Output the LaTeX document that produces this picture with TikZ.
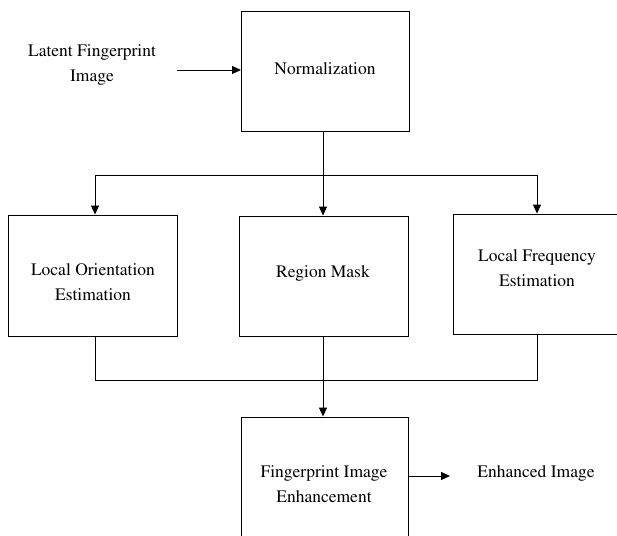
\documentclass[tikz,border=0pt]{standalone}
\usepackage[T1]{fontenc}
\usepackage{times}
\usetikzlibrary{arrows.meta}
\begin{document}
\begin{tikzpicture}[x=1pt,y=-1pt,
  every node/.style={font=\fontsize{17.5}{25}\selectfont, align=center, inner sep=0pt},
  blk/.style={draw, line width=0.9pt, minimum width=168pt, minimum height=120pt},
  conn/.style={line width=0.9pt},
  arr/.style={conn, -{Triangle[length=9pt,width=8pt]}}]
\useasboundingbox (0,0) rectangle (617,535);
\clip (0,0) rectangle (617,535);
\fill[white] (0,0) rectangle (617,535);
\node[blk] (norm) at (325,71.5) {};
\node at (325,68.5) {Normalization};
\node (input) at (92,64.5) {Latent Fingerprint\\Image};
\coordinate (instart) at (177,70);
\coordinate (inend) at (241,70);
\draw[arr] (instart) -- (inend);

\node[blk, minimum width=169pt, minimum height=121pt] (loe) at (92.5,275.5) {};
\node at (93,282.5) {Local Orientation\\Estimation};
\node[blk, minimum width=169pt] (rm) at (323.5,276) {};
\node at (323,273.5) {Region Mask};
\node[blk] (lfe) at (537,274) {};
\node at (537,268) {Local Frequency\\Estimation};

\node[blk, minimum width=167pt, minimum height=140pt] (fie) at (324.5,487) {};
\node at (324,484.5) {Fingerprint Image\\Enhancement};
\node (out) at (536,473.5) {Enhanced Image};

\coordinate (splitc) at (323,175);
\coordinate (splitl) at (95,175);
\coordinate (splitr) at (537,175);
\draw[conn] (norm.south -| splitc) -- (splitc);
\draw[conn] (splitl) -- (splitr);
\draw[arr] (splitc) -- (rm.north -| splitc);
\draw[arr] (splitl) -- (loe.north -| splitl);
\draw[arr] (splitr) -- (lfe.north -| splitr);

\coordinate (joinl) at (95,380);
\coordinate (joinc) at (323,380);
\coordinate (joinr) at (537,380);
\draw[conn] (loe.south -| joinl) -- (joinl) -- (joinr) -- (lfe.south -| joinr);
\draw[conn] (rm.south -| joinc) -- (joinc);
\draw[arr] (joinc) -- (fie.north -| joinc);

\coordinate (outend) at (450,476);
\draw[arr] (fie.east |- outend) -- (outend);
\end{tikzpicture}
\end{document}
